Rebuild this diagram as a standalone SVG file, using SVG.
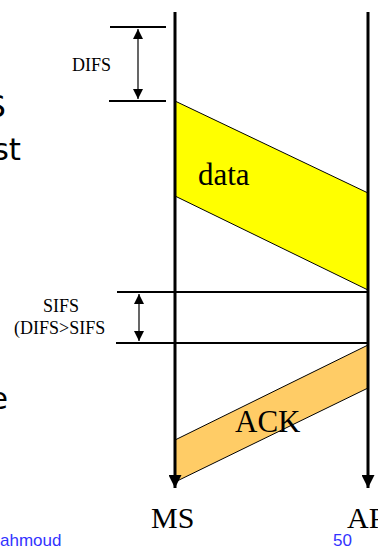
<svg xmlns="http://www.w3.org/2000/svg" width="378" height="548" viewBox="0 0 378 548">
<style>
.serif{font-family:"Liberation Serif","Times New Roman",serif;fill:#000}
.sans{font-family:"DejaVu Sans",Verdana,sans-serif;fill:#000}
.blue{font-family:"Liberation Sans",Arial,sans-serif;fill:#3333ff;font-size:17px}
.hl{stroke:#000;stroke-width:2;fill:none}
.vl{stroke:#000;stroke-width:3;fill:none}
.dim{stroke:#000;stroke-width:1.2;fill:none}
.frame{stroke:#000;stroke-width:1}
</style>
<defs>
<marker id="ah" viewBox="0 0 10 10" refX="10" refY="5" markerWidth="10" markerHeight="10" markerUnits="userSpaceOnUse" orient="auto">
<path d="M0,0 L10,5 L0,10 z" fill="#000"/>
</marker>
<marker id="big" viewBox="0 0 10 10" refX="10" refY="5" markerWidth="13" markerHeight="13" markerUnits="userSpaceOnUse" orient="auto">
<path d="M0,0 L10,5 L0,10 z" fill="#000"/>
</marker>
</defs>
<g id="side-text">
<text class="sans" x="6" y="117" font-size="31" text-anchor="end">S</text>
<text class="sans" x="21" y="160" font-size="31" text-anchor="end">st</text>
<text class="sans" x="2" y="375" font-size="31" text-anchor="end" fill="#888">n</text>
<text class="sans" x="8" y="409" font-size="31" text-anchor="end">e</text>
</g>
<g id="data">
<polygon class="frame" points="175,101 368,193 368,290 175,196" fill="#ffff00"/>
<text class="serif" x="198" y="185" font-size="31">data</text>
</g>
<g id="ack">
<polygon class="frame" points="175,440 368,345 368,388 175,482" fill="#ffcc66"/>
<text class="serif" x="235" y="432" font-size="31">ACK</text>
</g>
<g id="connectors">
<line class="vl" x1="175" y1="12" x2="175" y2="488" marker-end="url(#big)"/>
<line class="vl" x1="368" y1="12" x2="368" y2="488" marker-end="url(#big)"/>
<line class="hl" x1="110" y1="27" x2="166" y2="27"/>
<line class="hl" x1="109" y1="101" x2="166" y2="101"/>
<line class="dim" x1="138" y1="40" x2="138" y2="88"/>
<line class="dim" x1="138" y1="40" x2="138" y2="29" marker-end="url(#ah)"/>
<line class="dim" x1="138" y1="88" x2="138" y2="99" marker-end="url(#ah)"/>
<line class="hl" x1="117" y1="292" x2="368" y2="292"/>
<line class="hl" x1="116" y1="343" x2="368" y2="343"/>
<line class="dim" x1="139" y1="304" x2="139" y2="331"/>
<line class="dim" x1="139" y1="304" x2="139" y2="294" marker-end="url(#ah)"/>
<line class="dim" x1="139" y1="331" x2="139" y2="341" marker-end="url(#ah)"/>
</g>
<g id="labels">
<text class="serif" x="91.5" y="71" font-size="18" text-anchor="middle">DIFS</text>
<text class="serif" x="61" y="312" font-size="18" text-anchor="middle">SIFS</text>
<text class="serif" x="14" y="334" font-size="18">(DIFS&gt;SIFS</text>
<text class="serif" x="151" y="528" font-size="30">MS</text>
<text class="serif" x="347" y="528" font-size="30">AP</text>
</g>
<g id="footer">
<text class="blue" x="0" y="546">ahmoud</text>
<text class="blue" x="333" y="546">50</text>
</g>
</svg>
